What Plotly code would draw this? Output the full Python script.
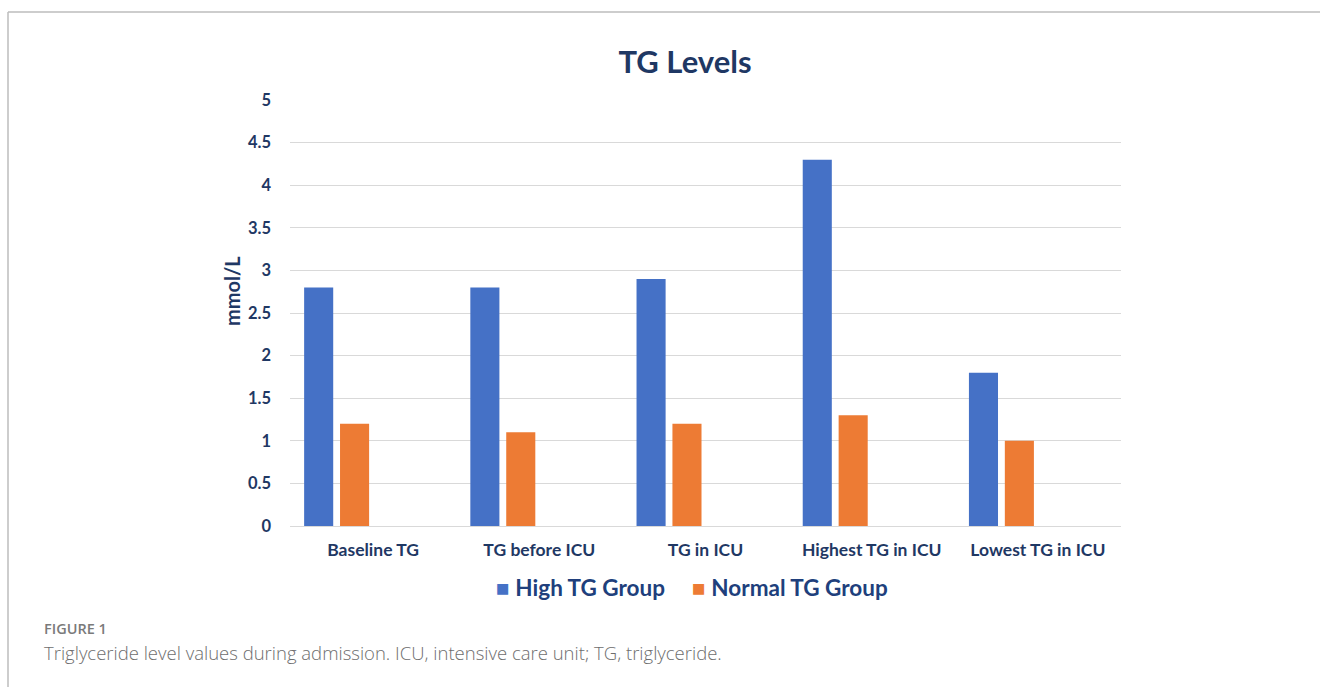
import plotly.graph_objects as go

categories = ["Baseline TG", "TG before ICU", "TG in ICU", "Highest TG in ICU", "Lowest TG in ICU"]
high_tg = [2.8, 2.8, 2.9, 4.3, 1.8]
normal_tg = [1.2, 1.1, 1.2, 1.3, 1.0]
series_names = ["High TG Group", "Normal TG Group"]
y_ticks = [0, 0.5, 1, 1.5, 2, 2.5, 3, 3.5, 4, 4.5, 5]
y_tick_text = ["0", "0.5", "1", "1.5", "2", "2.5", "3", "3.5", "4", "4.5", "5"]

NAVY = "#1f3864"
LEGEND_TEXT = "#203f7c"
BLUE = "#4571c6"
ORANGE = "#ed7b34"
FONT = "Lato"

W, H = 1320, 687
L, R, T, B = 290, 199, 100, 161
PW, PH = W - L - R, H - T - B


def px_x(x):
    return (x - L) / PW


def px_y(y):
    return (H - B - y) / PH


fig = go.Figure()
fig.add_trace(go.Bar(
    x=categories, y=high_tg, name=series_names[0],
    marker=dict(color=BLUE, line=dict(width=0)),
    width=0.175, offset=-0.415, showlegend=False,
))
fig.add_trace(go.Bar(
    x=categories, y=normal_tg, name=series_names[1],
    marker=dict(color=ORANGE, line=dict(width=0)),
    width=0.175, offset=-0.199, showlegend=False,
))

fig.update_layout(
    width=W, height=H,
    margin=dict(l=L, r=R, t=T, b=B, autoexpand=False),
    paper_bgcolor="white", plot_bgcolor="white",
    font=dict(family=FONT, color=NAVY),
    title=dict(text="<b>TG Levels</b>", x=685 / W, xanchor="center",
               y=1 - 62 / H, yanchor="middle",
               font=dict(family=FONT, size=31, color=NAVY)),
    showlegend=False,
    xaxis=dict(showgrid=False, showline=False, ticks="", zeroline=False,
               tickfont=dict(family=FONT, size=17.5, color=NAVY, weight="bold"),
               ticklabelstandoff=11),
    yaxis=dict(range=[0, 5], tickvals=y_ticks, ticktext=y_tick_text,
               showgrid=True, gridcolor="#d9d9d9", gridwidth=1,
               zeroline=True, zerolinecolor="#d9d9d9", zerolinewidth=1,
               showline=False, ticks="",
               tickfont=dict(family=FONT, size=16.5, color=NAVY, weight="bold"),
               ticklabelstandoff=18),
)

fig.add_annotation(text="<b>mmol/L</b>", textangle=-90, showarrow=False,
                   xref="paper", yref="paper", x=px_x(232), y=px_y(291),
                   xanchor="center", yanchor="middle",
                   font=dict(family=FONT, size=20, color=NAVY))

# Legend entries: colour swatch followed by the series name
for name, color, left in [(series_names[0], BLUE, 494), (series_names[1], ORANGE, 690)]:
    fig.add_annotation(
        text=f"<span style='color:{color}'>■</span> <b>{name}</b>",
        showarrow=False, xref="paper", yref="paper",
        x=px_x(left), y=px_y(587), xanchor="left", yanchor="middle",
        font=dict(family=FONT, size=22.5, color=LEGEND_TEXT))

fig.add_annotation(text="FIGURE 1", showarrow=False,
                   xref="paper", yref="paper", x=px_x(42), y=px_y(628),
                   xanchor="left", yanchor="middle",
                   font=dict(family="Open Sans", size=14.5, color="#7a7a7a", weight=600))
fig.add_annotation(text="Triglyceride level values during admission. ICU, intensive care unit; TG, triglyceride.",
                   showarrow=False, xref="paper", yref="paper",
                   x=px_x(42), y=px_y(652), xanchor="left", yanchor="middle",
                   font=dict(family="Open Sans", size=18.5, color="#6e6e6e", weight=300))

# Open frame around the figure panel (top and left edges)
frame = dict(color="#bdbdbd", width=1.5)
fig.add_shape(type="line", xref="paper", yref="paper",
              x0=px_x(8), x1=px_x(W + 2), y0=px_y(12), y1=px_y(12), line=frame)
fig.add_shape(type="line", xref="paper", yref="paper",
              x0=px_x(8), x1=px_x(8), y0=px_y(12), y1=px_y(H + 2), line=frame)

fig.write_html("out.html")
